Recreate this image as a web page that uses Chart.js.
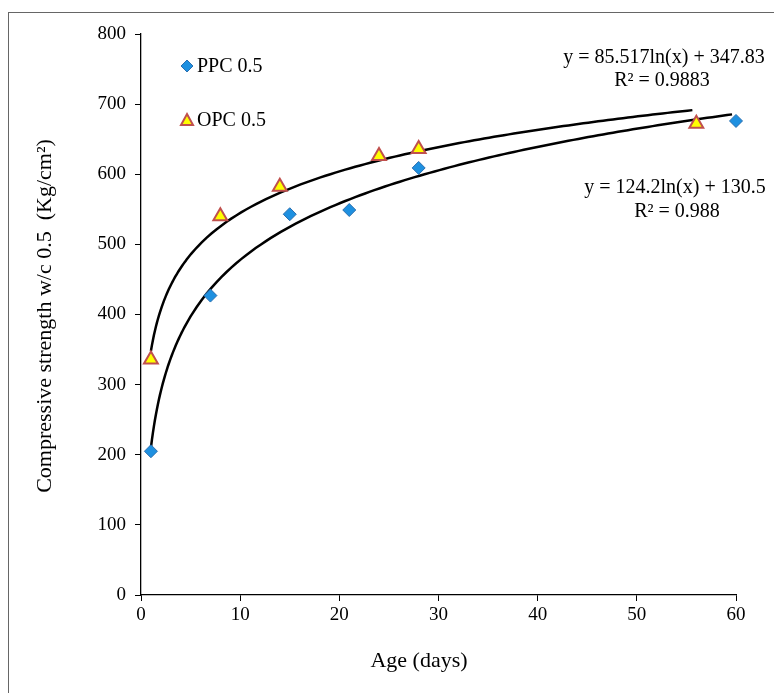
<!DOCTYPE html>
<html>
<head>
<meta charset="utf-8">
<script src="https://cdn.jsdelivr.net/npm/chart.js"></script>
<style>
  html, body { margin: 0; padding: 0; background: #fff; }
  #wrap { width: 774px; height: 693px; }
</style>
</head>
<body>
<div id="wrap"><canvas id="myChart" width="774" height="693"></canvas></div>
<script>
const ctx = document.getElementById('myChart');

// measured points
const ppcDays = [1, 7, 15, 21, 28, 60];
const ppcStrength = [205, 427, 543, 549, 609, 676];
const opcDays = [1, 8, 14, 24, 28, 56];
const opcStrength = [336, 540, 582, 626, 636, 672];

// log trendlines as drawn: y = a*ln(x) + b, from x=1 to end
const trendNames = ['PPC fit', 'OPC fit'];
const trendA = [116.3, 85.517];
const trendB = [210, 347.83];
const trendEnd = [60, 56];

const xTicks = [0, 10, 20, 30, 40, 50, 60];
const yTicks = [0, 100, 200, 300, 400, 500, 600, 700, 800];

const serif = "'Liberation Serif', 'Times New Roman', serif";

function toPoints(xs, ys) {
  return xs.map((x, i) => ({x: x, y: ys[i]}));
}

function trendPoints(i) {
  const pts = [];
  let x = 1;
  while (x <= trendEnd[i] + 1e-9) {
    pts.push({x: x, y: trendA[i] * Math.log(x) + trendB[i]});
    x += x < 5 ? 0.1 : 0.5;
  }
  return pts;
}

const textPlugin = {
  id: 'texts',
  beforeDraw(chart) {
    const c = chart.ctx;
    c.save();
    c.fillStyle = '#fff';
    c.fillRect(0, 0, chart.width, chart.height);
    c.strokeStyle = '#666';
    c.lineWidth = 1;
    c.strokeRect(8.5, 12.5, 900, 900);
    c.restore();
  },
  afterDraw(chart) {
    const c = chart.ctx;
    c.save();
    c.fillStyle = '#000';
    c.textBaseline = 'middle';

    // axis titles
    c.font = '22px ' + serif;
    c.textAlign = 'center';
    c.fillText('Age (days)', 419, 661);
    c.save();
    c.translate(45, 316);
    c.rotate(-Math.PI / 2);
    c.fillText('Compressive strength w/c 0.5  (Kg/cm\u00B2)', 0, 0);
    c.restore();

    // trendline equations
    c.font = '20px ' + serif;
    c.fillText('y = 85.517ln(x) + 347.83', 664, 58);
    c.fillText('R\u00B2 = 0.9883', 662, 81);
    c.fillText('y = 124.2ln(x) + 130.5', 675, 188);
    c.fillText('R\u00B2 = 0.988', 677, 212);

    // legend
    c.textAlign = 'left';
    c.fillText('PPC 0.5', 197, 67);
    c.fillText('OPC 0.5', 197, 121);
    c.beginPath();
    c.moveTo(187, 60); c.lineTo(193, 66); c.lineTo(187, 72); c.lineTo(181, 66);
    c.closePath();
    c.fillStyle = '#1E90E0';
    c.fill();
    c.strokeStyle = '#2A6FB0';
    c.lineWidth = 1;
    c.stroke();
    c.beginPath();
    c.moveTo(187, 114); c.lineTo(193, 125); c.lineTo(181, 125);
    c.closePath();
    c.fillStyle = '#FFFF00';
    c.fill();
    c.strokeStyle = '#C0504D';
    c.lineWidth = 2;
    c.stroke();
    c.restore();
  }
};

new Chart(ctx, {
  type: 'scatter',
  data: {
    datasets: [
      {
        label: trendNames[0],
        data: trendPoints(0),
        showLine: true,
        borderColor: '#000',
        borderWidth: 2.5,
        pointRadius: 0,
        tension: 0,
        clip: false,
        order: 3
      },
      {
        label: trendNames[1],
        data: trendPoints(1),
        showLine: true,
        borderColor: '#000',
        borderWidth: 2.5,
        pointRadius: 0,
        tension: 0,
        clip: false,
        order: 3
      },
      {
        label: 'PPC 0.5',
        data: toPoints(ppcDays, ppcStrength),
        pointStyle: 'rectRot',
        pointRadius: 6.5,
        backgroundColor: '#1E90E0',
        borderColor: '#2A6FB0',
        borderWidth: 1,
        clip: false,
        order: 1
      },
      {
        label: 'OPC 0.5',
        data: toPoints(opcDays, opcStrength),
        pointStyle: 'triangle',
        pointRadius: 8,
        backgroundColor: '#FFFF00',
        borderColor: '#C0504D',
        borderWidth: 2,
        clip: false,
        order: 2
      }
    ]
  },
  options: {
    responsive: false,
    animation: false,
    layout: { padding: { left: 0, top: 34, right: 38, bottom: 0 } },
    plugins: {
      legend: { display: false },
      tooltip: { enabled: false }
    },
    scales: {
      x: {
        type: 'linear',
        min: 0,
        max: 60,
        afterFit(scale) { scale.height = 98; },
        afterBuildTicks(scale) { scale.ticks = xTicks.map(v => ({value: v})); },
        ticks: { color: '#000', font: { family: serif, size: 19 }, padding: 3 },
        grid: { drawOnChartArea: false, drawTicks: true, tickLength: 6, color: '#000' },
        border: { color: '#000', width: 1.3 }
      },
      y: {
        type: 'linear',
        min: 0,
        max: 800,
        afterFit(scale) { scale.width = 141; },
        afterBuildTicks(scale) { scale.ticks = yTicks.map(v => ({value: v})); },
        ticks: { color: '#000', font: { family: serif, size: 19 }, padding: 9 },
        grid: { drawOnChartArea: false, drawTicks: true, tickLength: 6, color: '#000' },
        border: { color: '#000', width: 1.3 }
      }
    }
  },
  plugins: [textPlugin]
});
</script>
</body>
</html>
